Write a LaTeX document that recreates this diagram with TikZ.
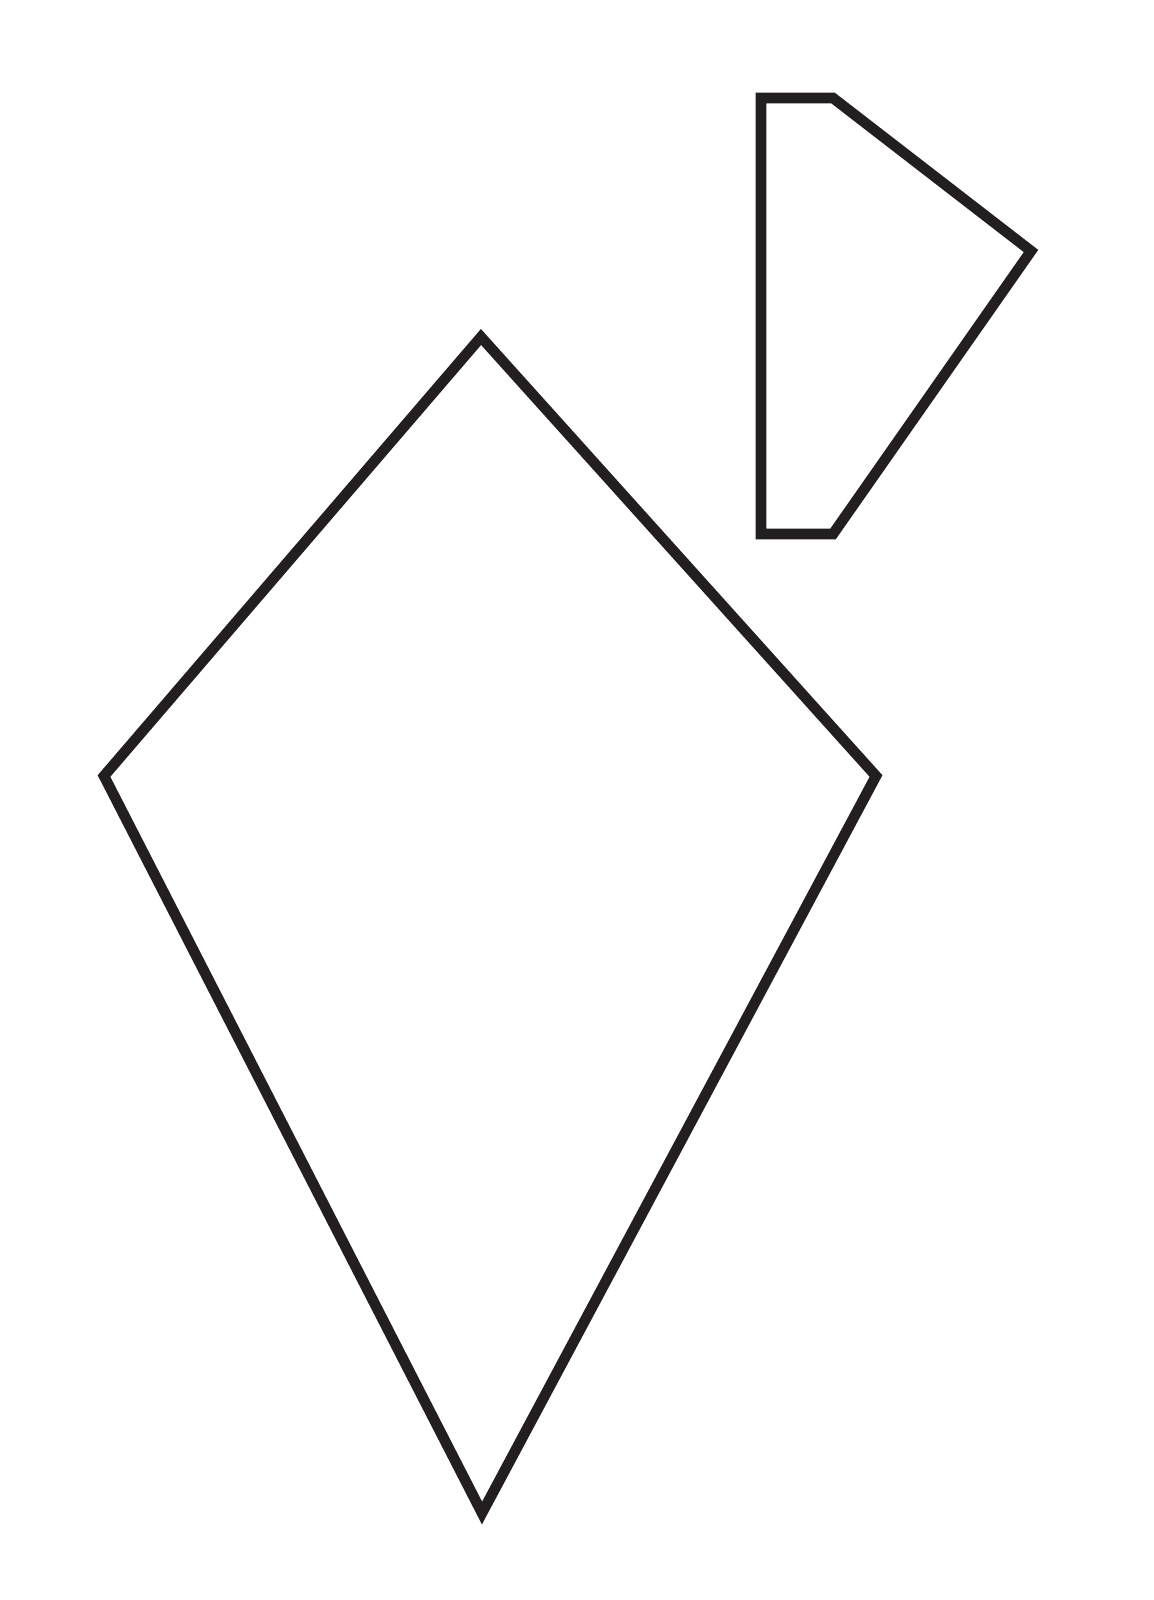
\documentclass[tikz,border=0pt]{standalone}
\usepackage{tikz}
\definecolor{ink}{HTML}{231F20}
\begin{document}
\begin{tikzpicture}[x=0.01cm, y=-0.01cm]
    \useasboundingbox (0,0) rectangle (1153,1600);
    % kite
    \draw[line width=3pt, ink, miter limit=10](481,337)--(876,776)--(482,1513)--(104,776)--cycle;
    % cut-off piece
    \draw[line width=3pt, ink](761,98)--(833,98)--(1031,251)--(833,534)--(761,534)--cycle;
\end{tikzpicture}
\end{document}
